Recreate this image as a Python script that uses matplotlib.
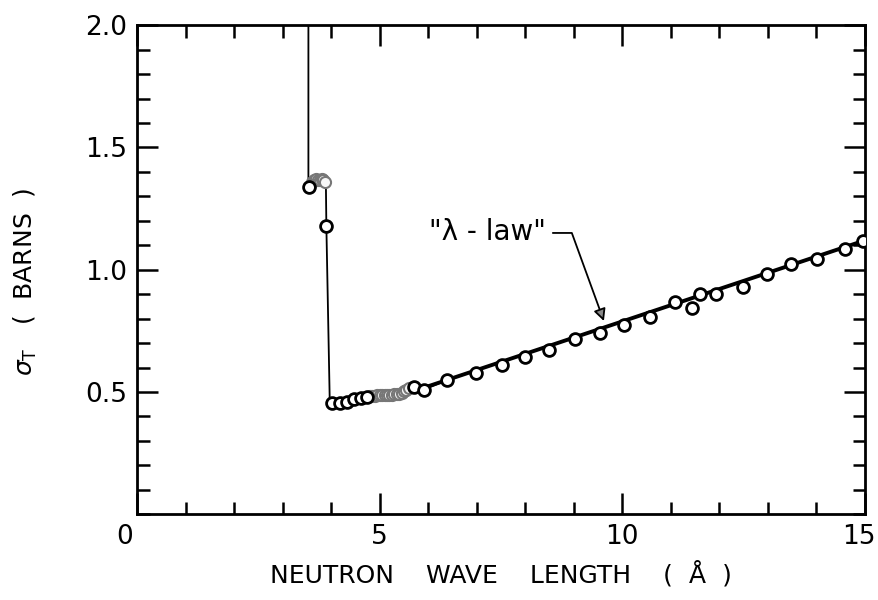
import matplotlib.pyplot as plt
import matplotlib.transforms as mtransforms
import numpy as np

# thin curve through the measured points (Bragg cutoff region and data)
curve_x = [3.53, 3.53, 3.55, 3.62, 3.70, 3.78, 3.86, 3.89, 3.90, 3.97,
           4.02, 4.19, 4.33, 4.47, 4.62, 4.74, 4.90, 5.10, 5.30, 5.45,
           5.55, 5.71, 5.92, 6.39]
curve_y = [2.10, 1.35, 1.34, 1.36, 1.37, 1.365, 1.37, 1.36, 1.18, 0.46,
           0.455, 0.455, 0.46, 0.47, 0.475, 0.48, 0.485, 0.488, 0.49, 0.497,
           0.51, 0.52, 0.51, 0.549]

# open circles (measured points)
pts_x = [3.55, 3.90, 4.02, 4.19, 4.33, 4.47, 4.62, 4.74, 5.71, 5.92,
         6.39, 6.99, 7.51, 8.00, 8.49, 9.03, 9.55, 10.04, 10.58, 11.09,
         11.44, 11.61, 11.94, 12.49, 12.99, 13.48, 14.02, 14.58, 14.95]
pts_y = [1.34, 1.18, 0.455, 0.455, 0.46, 0.47, 0.475, 0.48, 0.52, 0.51,
         0.549, 0.578, 0.611, 0.643, 0.672, 0.717, 0.742, 0.775, 0.807, 0.869,
         0.844, 0.902, 0.902, 0.930, 0.984, 1.025, 1.045, 1.086, 1.119]

# densely measured stretches (smeared circles)
dense1_x = [3.60, 3.64, 3.68, 3.72, 3.76, 3.80, 3.84, 3.87]
dense1_y = [1.36, 1.365, 1.37, 1.365, 1.365, 1.37, 1.365, 1.36]
dense2_x = [4.80, 4.85, 4.90, 4.95, 5.00, 5.05, 5.10, 5.15, 5.20, 5.25,
            5.30, 5.35, 5.40, 5.45, 5.50, 5.55, 5.60]
dense2_y = [0.482, 0.484, 0.485, 0.486, 0.487, 0.487, 0.488, 0.488, 0.488, 0.489,
            0.490, 0.490, 0.492, 0.497, 0.503, 0.510, 0.515]

# "lambda-law" straight line
law_x = [5.95, 15.0]
law_y = [0.52, 1.12]

plt.rcParams['font.family'] = ['DejaVu Sans']
plt.rcParams['mathtext.fontset'] = 'dejavusans'

fig = plt.figure(figsize=(8.79, 6.0), dpi=100)
ax = fig.add_axes([0.156, 0.143, 0.828, 0.815])

ax.plot(law_x, law_y, color='black', lw=2.8, zorder=2)
ax.plot(curve_x, curve_y, color='black', lw=1.3, zorder=2)
ax.plot(dense1_x, dense1_y, 'o', ms=8, mfc='#f7f7f7', mec='#777777', mew=1.5, zorder=3)
ax.plot(dense2_x, dense2_y, 'o', ms=8, mfc='#f7f7f7', mec='#777777', mew=1.5, zorder=3)
ax.plot(pts_x, pts_y, 'o', ms=8.5, mfc='white', mec='black', mew=2.0, zorder=4)

ax.annotate('"λ - law"', xy=(9.62, 0.79), xytext=(7.22, 1.156),
            fontsize=20, ha='center', va='center',
            arrowprops=dict(arrowstyle='-|>', color='black', lw=1.3,
                            fc='#888888', mutation_scale=18,
                            shrinkA=3, shrinkB=0, relpos=(1.0, 0.45),
                            connectionstyle='angle,angleA=0,angleB=110,rad=0'))

ax.set_xlim(0, 15)
ax.set_ylim(0, 2.0)
ax.set_xticks([0, 5, 10, 15])
ax.set_xticklabels(['0', '5', '10', '15'])
ax.set_xticks(np.arange(0, 16, 1), minor=True)
ax.set_yticks([0.5, 1.0, 1.5, 2.0])
ax.set_yticklabels(['0.5', '1.0', '1.5', '2.0'])
ax.set_yticks(np.arange(0, 2.01, 0.1), minor=True)

ax.tick_params(which='both', direction='in', top=True, right=True, width=1.8)
ax.tick_params(which='major', length=15, labelsize=19, pad=7)
ax.tick_params(which='minor', length=9)
for s in ax.spines.values():
    s.set_linewidth(2.0)

# end labels sit a little inward/outward as in the original lettering
xlabels = ax.get_xticklabels()
xlabels[0].set_transform(xlabels[0].get_transform() +
                         mtransforms.ScaledTranslation(-0.12, 0, fig.dpi_scale_trans))
xlabels[-1].set_transform(xlabels[-1].get_transform() +
                          mtransforms.ScaledTranslation(-0.06, 0, fig.dpi_scale_trans))

ax.set_xlabel('NEUTRON    WAVE    LENGTH    (  Å  )', fontsize=18, labelpad=8)
ax.set_ylabel(r'$\sigma_{\rm T}$   (  BARNS  )', fontsize=18)
ax.yaxis.set_label_coords(-0.135, 0.476)

fig.savefig('out.png', dpi=100)
